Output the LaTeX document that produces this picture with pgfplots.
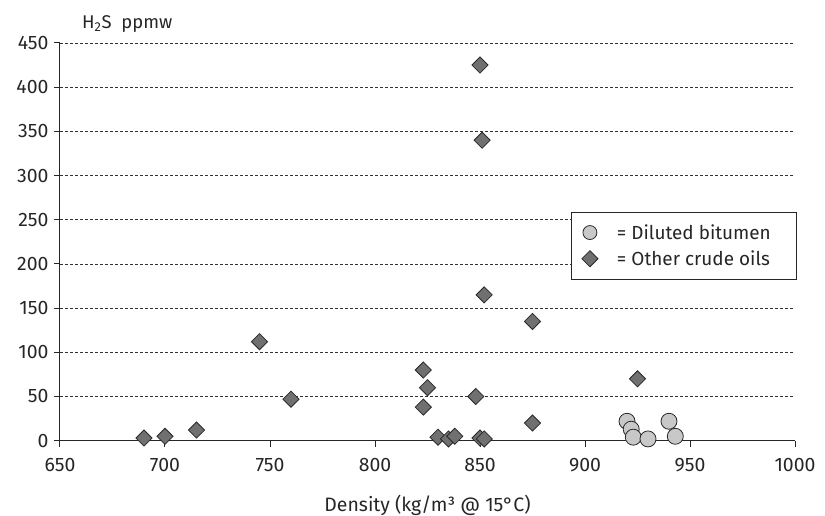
\documentclass[border=0pt]{standalone}
\usepackage{fontspec}
\setmainfont{Fira Sans}
\usepackage{pgfplots}
\pgfplotsset{compat=1.18}
\usetikzlibrary{calc}
\definecolor{diamondgray}{RGB}{112,112,112}
\definecolor{circlegray}{RGB}{200,200,200}
\definecolor{edgegray}{RGB}{40,40,40}
\begin{document}
\begin{tikzpicture}
\begin{axis}[
    name=ax,
    scale only axis,
    width=735bp, height=397.7bp,
    xmin=650, xmax=1000,
    ymin=0, ymax=450,
    xtick={650,700,...,1000},
    ytick={0,50,...,450},
    clip=false,
    axis x line*=bottom,
    axis y line*=left,
    axis line style={line width=1bp, black!85},
    tick align=outside,
    major tick length=6bp,
    tick style={line width=1bp, black!85},
    ymajorgrids,
    grid style={dash pattern=on 3bp off 2bp, line width=0.8bp, black!80},
    /pgf/number format/assume math mode=true,
    /pgf/number format/1000 sep={},
    tick label style={font=\fontsize{19.5}{22}\selectfont, text=black!85},
    xticklabel style={yshift=-8bp},
    yticklabel style={xshift=-2bp},
    legend style={
        at={(1.003,0.575)}, anchor=north east,
        draw=black!85, line width=0.8bp,
        font=\fontsize{19}{22}\selectfont,
        text=black!85,
        cells={anchor=west},
        row sep=6bp, column sep=17bp,
        inner xsep=10bp, inner ysep=10bp,
    },
    legend cell align=left,
]

% Diluted bitumen
\addplot[only marks, mark=*, mark size=8bp,
    mark options={fill=circlegray, draw=edgegray, line width=0.8bp},
    legend image post style={mark size=7bp}]
    coordinates {
    (920,22)(922,13)(923,4)(930,2)(940,22)(943,5)
    };
\addlegendentry{= Diluted bitumen\kern14bp}

% Other crude oils
\addplot[only marks, mark=square*, mark size=5.7bp,
    mark options={rotate=45, fill=diamondgray, draw=edgegray, line width=0.8bp}]
    coordinates {
    (690,3)(700,5)(715,12)(745,112)(760,47)
    (823,80)(825,60)(823,38)(830,4)(835,2)(838,5)
    (848,50)(850,3)(852,2)(850,425)(851,340)(852,165)
    (875,135)(875,20)(925,70)
    };
\addlegendentry{= Other crude oils}

\node[anchor=base west, font=\fontsize{18.5}{20}\selectfont, text=black!85,
    inner sep=0pt, xshift=22bp, yshift=14.7bp]
    at (rel axis cs:0,1) {H\textsubscript{2}S\ \ ppmw};
\node[anchor=base, font=\fontsize{19.5}{22}\selectfont, text=black!85,
    inner sep=0pt, yshift=-70.5bp]
    at (rel axis cs:0.5,0) {Density (kg/m³ @ 15°C)};
\end{axis}
\pgfresetboundingbox
\useasboundingbox ($(ax.south west)+(-60bp,-75.3bp)$) rectangle ($(ax.north east)+(30bp,43bp)$);
\end{tikzpicture}
\end{document}
